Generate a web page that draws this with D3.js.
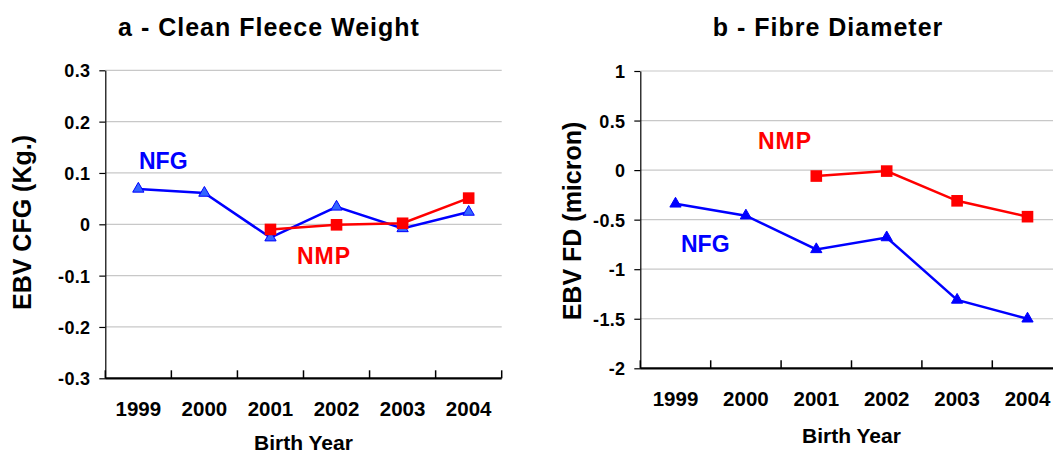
<!DOCTYPE html>
<html>
<head>
<meta charset="utf-8">
<script src="https://cdn.jsdelivr.net/npm/d3@7"></script>
<style>
  body { margin: 0; background: #fff; }
  text { font-family: Arial, "Liberation Sans", sans-serif; font-weight: bold; }
</style>
</head>
<body>
<div id="chart"></div>
<script>
// birth years (categories)
var years = ["1999", "2000", "2001", "2002", "2003", "2004"];

// a - clean fleece weight EBV (kg)
var cfwNFG = [0.069, 0.061, -0.026, 0.034, -0.008, 0.024];
var cfwNMP = [null, null, -0.010, -0.001, 0.002, 0.051];
var cfwTicks = [-0.3, -0.2, -0.1, 0, 0.1, 0.2, 0.3];

// b - fibre diameter EBV (micron)
var fdNFG = [-0.34, -0.46, -0.80, -0.68, -1.31, -1.50];
var fdNMP = [null, null, -0.06, -0.01, -0.31, -0.47];
var fdTicks = [-2, -1.5, -1, -0.5, 0, 0.5, 1];

var svg = d3.select("#chart")
	.append("svg")
	.attr("width", 1053)
	.attr("height", 455);

function drawPanel(p) {
	var g = svg.append("g");

	var x = d3.scaleBand()
		.domain(years)
		.range([p.left, p.right]);
	var y = d3.scaleLinear()
		.domain(d3.extent(p.ticks))
		.range([p.bottom, p.top]);

	// gridlines
	g.selectAll(".grid")
		.data(p.ticks.slice(1))
		.enter()
		.append("line")
		.attr("x1", p.left)
		.attr("x2", p.right)
		.attr("y1", d => y(d))
		.attr("y2", d => y(d))
		.attr("stroke", "#c8c8c8")
		.attr("stroke-width", 1.2);

	// y axis
	var yAxis = g.append("g")
		.attr("transform", "translate(" + p.left + ",0)")
		.call(d3.axisLeft(y).tickValues(p.ticks).tickSize(6).tickSizeOuter(0).tickFormat(d => String(d)));
	yAxis.select(".domain").attr("stroke", "#000").attr("stroke-width", 1.2);
	yAxis.selectAll(".tick line").attr("stroke", "#000").attr("stroke-width", 1.2);
	yAxis.selectAll(".tick text")
		.attr("x", -15)
		.attr("dy", "0.36em")
		.attr("fill", "#000")
		.style("font-size", "18px")
		.style("letter-spacing", "0.3px");

	// x axis line and inner ticks at band edges
	g.append("line")
		.attr("x1", p.left)
		.attr("x2", p.right)
		.attr("y1", p.bottom)
		.attr("y2", p.bottom)
		.attr("stroke", "#000")
		.attr("stroke-width", 2.2);
	g.selectAll(".xtick")
		.data(years.map(d => x(d)).concat([p.right]))
		.enter()
		.append("line")
		.attr("x1", d => d)
		.attr("x2", d => d)
		.attr("y1", p.bottom)
		.attr("y2", p.bottom - 8)
		.attr("stroke", "#000")
		.attr("stroke-width", 1.5);
	g.selectAll(".xlab")
		.data(years)
		.enter()
		.append("text")
		.attr("x", d => x(d) + x.bandwidth() / 2)
		.attr("y", p.bottom + 38)
		.attr("text-anchor", "middle")
		.style("font-size", "20.5px")
		.text(d => d);

	// titles
	g.append("text")
		.attr("x", p.titleX)
		.attr("y", 36)
		.attr("text-anchor", "middle")
		.style("font-size", "25px")
		.style("letter-spacing", "1px")
		.text(p.title);
	g.append("text")
		.attr("x", (p.left + p.right) / 2)
		.attr("y", Math.min(p.bottom + 75, 450))
		.attr("text-anchor", "middle")
		.style("font-size", "21px")
		.text("Birth Year");
	g.append("text")
		.attr("transform", "translate(" + p.ylabX + "," + p.ylabY + ") rotate(-90)")
		.attr("text-anchor", "middle")
		.style("font-size", "25px")
		.text(p.ylabel);

	var cx = i => x(years[i]) + x.bandwidth() / 2;
	var line = d3.line()
		.defined(d => d != null)
		.x((d, i) => cx(i))
		.y(d => y(d));

	// NFG
	g.append("path")
		.attr("d", line(p.nfg))
		.attr("fill", "none")
		.attr("stroke", "#0000ff")
		.attr("stroke-width", 2.5);
	g.selectAll(".tri")
		.data(p.nfg)
		.enter()
		.append("path")
		.attr("d", d3.symbol().type(d3.symbolTriangle).size(55))
		.attr("transform", (d, i) => "translate(" + cx(i) + "," + y(d) + ")")
		.attr("fill", p.triFill)
		.attr("stroke", "#0000ff")
		.attr("stroke-width", 1);

	// NMP
	var nmp = p.nmp.map((d, i) => ({v: d, i: i})).filter(d => d.v != null);
	g.append("path")
		.attr("d", line(p.nmp))
		.attr("fill", "none")
		.attr("stroke", "#ff0000")
		.attr("stroke-width", 2.5);
	g.selectAll(".sq")
		.data(nmp)
		.enter()
		.append("rect")
		.attr("x", d => cx(d.i) - 5.8)
		.attr("y", d => y(d.v) - 5.8)
		.attr("width", 11.6)
		.attr("height", 11.6)
		.attr("fill", "#ff0000");

	// series labels
	g.append("text")
		.attr("x", p.nfgLab[0])
		.attr("y", p.nfgLab[1])
		.attr("fill", "#0000ff")
		.style("font-size", "23px")
		.text("NFG");
	g.append("text")
		.attr("x", p.nmpLab[0])
		.attr("y", p.nmpLab[1])
		.attr("fill", "#ff0000")
		.style("font-size", "23px")
		.style("letter-spacing", "1px")
		.text("NMP");
}

drawPanel({
	left: 105.3, right: 501.7, top: 70.3, bottom: 378.3,
	ticks: cfwTicks, nfg: cfwNFG, nmp: cfwNMP,
	title: "a - Clean Fleece Weight", titleX: 269,
	ylabel: "EBV CFG (Kg.)", ylabX: 31, ylabY: 222.5,
	triFill: "#3366ff",
	nfgLab: [139, 169], nmpLab: [297, 264]
});

drawPanel({
	left: 640.3, right: 1062.7, top: 71, bottom: 368.3,
	ticks: fdTicks, nfg: fdNFG, nmp: fdNMP,
	title: "b - Fibre Diameter", titleX: 828,
	ylabel: "EBV FD (micron)", ylabX: 581, ylabY: 221,
	triFill: "#0000ff",
	nfgLab: [681, 251.5], nmpLab: [758, 149]
});
</script>
</body>
</html>
